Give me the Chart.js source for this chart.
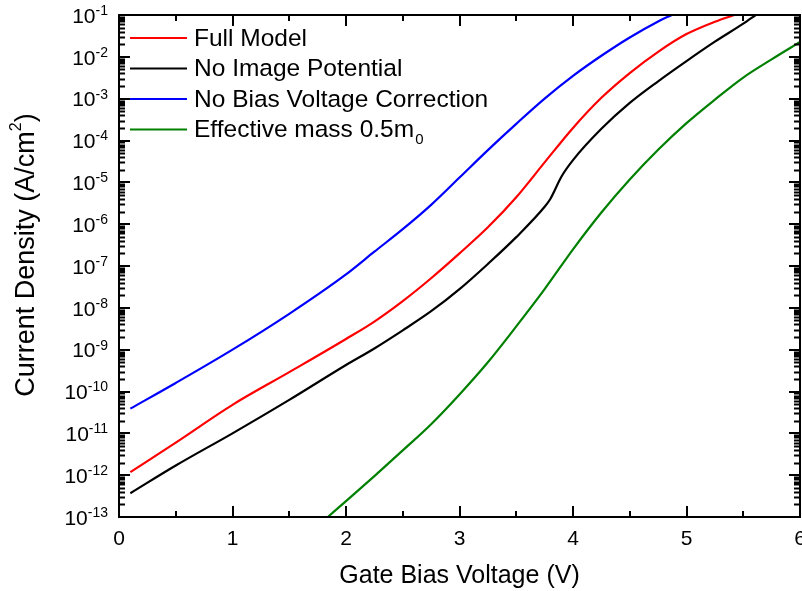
<!DOCTYPE html>
<html>
<head>
<meta charset="utf-8">
<script src="https://cdn.jsdelivr.net/npm/chart.js@4.4.1/dist/chart.umd.min.js"></script>
<style>
body { margin: 0; background: #fff; }
#wrap { width: 802px; height: 591px; }
</style>
</head>
<body>
<div id="wrap"><canvas id="chart" width="802" height="591"></canvas></div>
<script>
// values
let fullX = [0.1, 0.5, 1, 1.5, 2, 2.25, 2.5, 2.75, 3, 3.25, 3.5, 3.75, 4, 4.25, 4.5, 4.75, 5, 5.25, 5.42]
let fullY = [1.18e-12, 6.0e-12, 4.8e-11, 2.9e-10, 1.8e-9, 4.7e-9, 1.45e-8, 5.1e-8, 2.0e-7, 8.4e-7, 4.4e-6, 3.0e-5, 2.0e-4, 1.05e-3, 4.1e-3, 1.32e-2, 3.5e-2, 6.9e-2, 1.0e-1]

let noImgX = [0.1, 0.5, 1, 1.5, 2, 2.25, 2.5, 2.75, 3, 3.25, 3.5, 3.75, 3.8, 3.9, 4, 4.25, 4.5, 4.75, 5, 5.25, 5.5, 5.61]
let noImgY = [3.7e-13, 1.7e-12, 1.0e-11, 6.3e-11, 4.3e-10, 1.07e-9, 2.9e-9, 8.3e-9, 2.8e-8, 1.12e-7, 4.9e-7, 2.6e-6, 4.0e-6, 1.4e-5, 3.4e-5, 1.9e-4, 7.9e-4, 2.6e-3, 7.9e-3, 2.3e-2, 6.2e-2, 1.0e-1]

let noBiasX = [0.1, 0.5, 1, 1.5, 2, 2.25, 2.5, 2.75, 3, 3.25, 3.5, 3.75, 4, 4.25, 4.5, 4.75, 4.87]
let noBiasY = [3.9e-11, 1.6e-10, 1.0e-9, 7.2e-9, 6.3e-8, 2.2e-7, 7.6e-7, 2.9e-6, 1.3e-5, 5.9e-5, 2.5e-4, 1.0e-3, 3.5e-3, 1.06e-2, 2.9e-2, 7.0e-2, 1.0e-1]

let effMassX = [1.84, 2, 2.25, 2.5, 2.75, 3, 3.25, 3.5, 3.75, 4, 4.25, 4.5, 4.75, 5, 5.25, 5.5, 5.75, 6]
let effMassY = [1e-13, 2.4e-13, 9.5e-13, 3.9e-12, 1.65e-11, 8.5e-11, 5.0e-10, 3.6e-9, 2.8e-8, 2.5e-7, 1.9e-6, 1.17e-5, 6.0e-5, 2.6e-4, 9.5e-4, 3.2e-3, 8.7e-3, 2.26e-2]

let seriesNames = ['Full Model', 'No Image Potential', 'No Bias Voltage Correction', 'Effective mass 0.5m\u2080']
let seriesColors = ['#ff0000', '#000000', '#0000ff', '#008000']

let xTicks = [0, 1, 2, 3, 4, 5, 6]
let yExponents = [-13, -12, -11, -10, -9, -8, -7, -6, -5, -4, -3, -2, -1]

let xTitle = 'Gate Bias Voltage (V)'
let yTitle = 'Current Density (A/cm'

let font = '"Liberation Sans", Arial, sans-serif'

function points(xs, ys) {
    return xs.map((x, i) => ({ x: x, y: ys[i] }))
}

// frame, inward ticks, labels and legend
const decorations = {
    id: 'decorations',
    afterDatasetsDraw(chart) {
        let ctx = chart.ctx
        let a = chart.chartArea
        let sx = chart.scales.x
        let sy = chart.scales.y
        ctx.save()
        ctx.strokeStyle = '#000'
        ctx.fillStyle = '#000'
        ctx.lineWidth = 2
        ctx.strokeRect(a.left, a.top, a.right - a.left, a.bottom - a.top)

        ctx.beginPath()
        for (let i = 0; i < xTicks.length; i++) {
            let px = Math.round(sx.getPixelForValue(xTicks[i]))
            ctx.moveTo(px, a.bottom); ctx.lineTo(px, a.bottom - 11)
            ctx.moveTo(px, a.top); ctx.lineTo(px, a.top + 11)
            if (i < xTicks.length - 1) {
                let hx = Math.round(sx.getPixelForValue(xTicks[i] + 0.5))
                ctx.moveTo(hx, a.bottom); ctx.lineTo(hx, a.bottom - 6)
                ctx.moveTo(hx, a.top); ctx.lineTo(hx, a.top + 6)
            }
        }
        for (let i = 0; i < yExponents.length; i++) {
            let e = yExponents[i]
            let py = Math.round(sy.getPixelForValue(Math.pow(10, e)))
            ctx.moveTo(a.left, py); ctx.lineTo(a.left + 11, py)
            ctx.moveTo(a.right, py); ctx.lineTo(a.right - 11, py)
            if (e < -1) {
                for (let m = 2; m <= 9; m++) {
                    let my = Math.round(sy.getPixelForValue(m * Math.pow(10, e))) + 0.5
                    ctx.moveTo(a.left, my); ctx.lineTo(a.left + 6, my)
                    ctx.moveTo(a.right, my); ctx.lineTo(a.right - 6, my)
                }
            }
        }
        ctx.stroke()

        // x tick labels
        ctx.font = '21px ' + font
        ctx.textAlign = 'center'
        ctx.textBaseline = 'middle'
        xTicks.forEach(v => {
            ctx.fillText(String(v), sx.getPixelForValue(v), a.bottom + 22)
        })

        // y tick labels 10^e
        yExponents.forEach(e => {
            let py = sy.getPixelForValue(Math.pow(10, e))
            let exp = String(e)
            ctx.font = '14px ' + font
            let ew = ctx.measureText(exp).width
            ctx.font = '21px ' + font
            let bw = ctx.measureText('10').width
            let right = 108
            ctx.textAlign = 'left'
            ctx.textBaseline = 'middle'
            ctx.fillText('10', right - ew - bw, py + 2)
            ctx.font = '14px ' + font
            ctx.fillText(exp, right - ew, py - 4)
        })

        // axis titles
        ctx.font = '25px ' + font
        ctx.textAlign = 'center'
        ctx.textBaseline = 'middle'
        ctx.fillText(xTitle, (a.left + a.right) / 2, 576)

        ctx.save()
        ctx.translate(27, 255)
        ctx.rotate(-Math.PI / 2)
        ctx.font = '27px ' + font
        let w1 = ctx.measureText(yTitle).width
        ctx.font = '16px ' + font
        let w2 = ctx.measureText('2').width
        ctx.font = '27px ' + font
        let w3 = ctx.measureText(')').width
        let x0 = -(w1 + w2 + w3) / 2
        ctx.textAlign = 'left'
        ctx.fillText(yTitle, x0, 0)
        ctx.font = '16px ' + font
        ctx.fillText('2', x0 + w1, -10)
        ctx.font = '27px ' + font
        ctx.fillText(')', x0 + w1 + w2, 0)
        ctx.restore()

        // legend
        chart.data.datasets.forEach((ds, i) => {
            let ly = 38 + i * 30.5
            ctx.strokeStyle = ds.borderColor
            ctx.lineWidth = 2.2
            ctx.beginPath()
            ctx.moveTo(130, ly); ctx.lineTo(187, ly)
            ctx.stroke()
            ctx.fillStyle = '#000'
            ctx.font = '24.5px ' + font
            ctx.textAlign = 'left'
            ctx.textBaseline = 'middle'
            let label = ds.label
            if (label.endsWith('\u2080')) {
                let main = label.slice(0, -1)
                ctx.fillText(main, 194, ly + 1)
                let mw = ctx.measureText(main).width
                ctx.font = '15px ' + font
                ctx.fillText('0', 194 + mw + 1, ly + 10)
            } else {
                ctx.fillText(label, 194, ly + 1)
            }
        })
        ctx.restore()
    }
}

let series = [[fullX, fullY], [noImgX, noImgY], [noBiasX, noBiasY], [effMassX, effMassY]]

new Chart(document.getElementById('chart'), {
    type: 'line',
    data: {
        datasets: series.map((s, i) => ({
            label: seriesNames[i],
            data: points(s[0], s[1]),
            borderColor: seriesColors[i],
            borderWidth: 2.2,
            pointRadius: 0,
            cubicInterpolationMode: 'monotone',
            fill: false
        }))
    },
    options: {
        responsive: false,
        animation: false,
        layout: { padding: { left: 119, right: 2, top: 15, bottom: 74 } },
        plugins: { legend: { display: false }, tooltip: { enabled: false } },
        scales: {
            x: { type: 'linear', min: 0, max: 6, display: false },
            y: { type: 'logarithmic', min: 1e-13, max: 1e-1, display: false }
        }
    },
    plugins: [decorations]
})
</script>
</body>
</html>
